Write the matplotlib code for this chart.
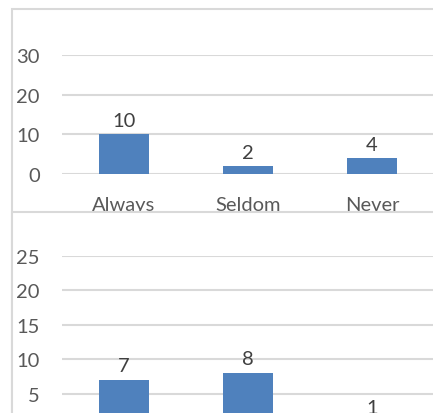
import matplotlib.pyplot as plt
from matplotlib.patches import Rectangle

plt.rcParams['font.family'] = ['Lato', 'DejaVu Sans']

categories = ['Always', 'Seldom', 'Never']
top_values = [10, 2, 4]
bottom_values = [7, 8, 1]
top_ticks = [0, 10, 20, 30]
bottom_ticks = [5, 10, 15, 20, 25]

bar_color = '#4f81bd'
grid_color = '#d9d9d9'
text_color = '#595959'
W, H = 433, 414

fig = plt.figure(figsize=(W / 100, H / 100), dpi=100)


def box(x0, y0, x1, y1):
    # pixel box (top-left origin) -> figure fraction rect
    return [x0 / W, 1 - y1 / H, (x1 - x0) / W, (y1 - y0) / H]


def style(ax, values, ticks, ymax):
    x = range(len(categories))
    bars = ax.bar(x, values, width=0.4, color=bar_color, zorder=2)
    for b, v in zip(bars, values):
        ax.annotate(str(v), (b.get_x() + b.get_width() / 2, v),
                    xytext=(0, 4), textcoords='offset points',
                    ha='center', va='bottom', fontsize=14.5, color='#404040')
    ax.set_xlim(-0.5, len(categories) - 0.5)
    ax.set_ylim(0, ymax)
    ax.set_yticks(ticks)
    ax.set_xticks(list(x))
    ax.set_xticklabels(categories)
    ax.yaxis.grid(True, color=grid_color, linewidth=1.5, zorder=0)
    ax.set_axisbelow(True)
    for s in ax.spines.values():
        s.set_visible(False)
    ax.tick_params(axis='both', length=0, labelsize=14.5, colors=text_color)
    ax.tick_params(axis='y', pad=16)
    ax.tick_params(axis='x', pad=16)
    ax.patch.set_alpha(0)


# top chart frame
fig.patches.append(Rectangle((11.5 / W, 1 - 420 / H), 430 / W, 410 / H,
                             transform=fig.transFigure, facecolor='white',
                             edgecolor=grid_color, linewidth=1.5, zorder=0.5))
ax1 = fig.add_axes(box(62, 56, 434, 175))
ax1.set_zorder(1)
style(ax1, top_values, top_ticks, 30)

# bottom chart frame drawn over the lower part of the top chart
fig.patches.append(Rectangle((11.5 / W, 1 - 430 / H), 430 / W, 217 / H,
                             transform=fig.transFigure, facecolor='white',
                             edgecolor=grid_color, linewidth=1.5, zorder=2))
ax2 = fig.add_axes(box(62, 257, 434, 429))
ax2.set_zorder(3)
style(ax2, bottom_values, bottom_ticks, 25)
ax2.tick_params(axis='x', labelbottom=False)

fig.savefig('out.png', dpi=100)
